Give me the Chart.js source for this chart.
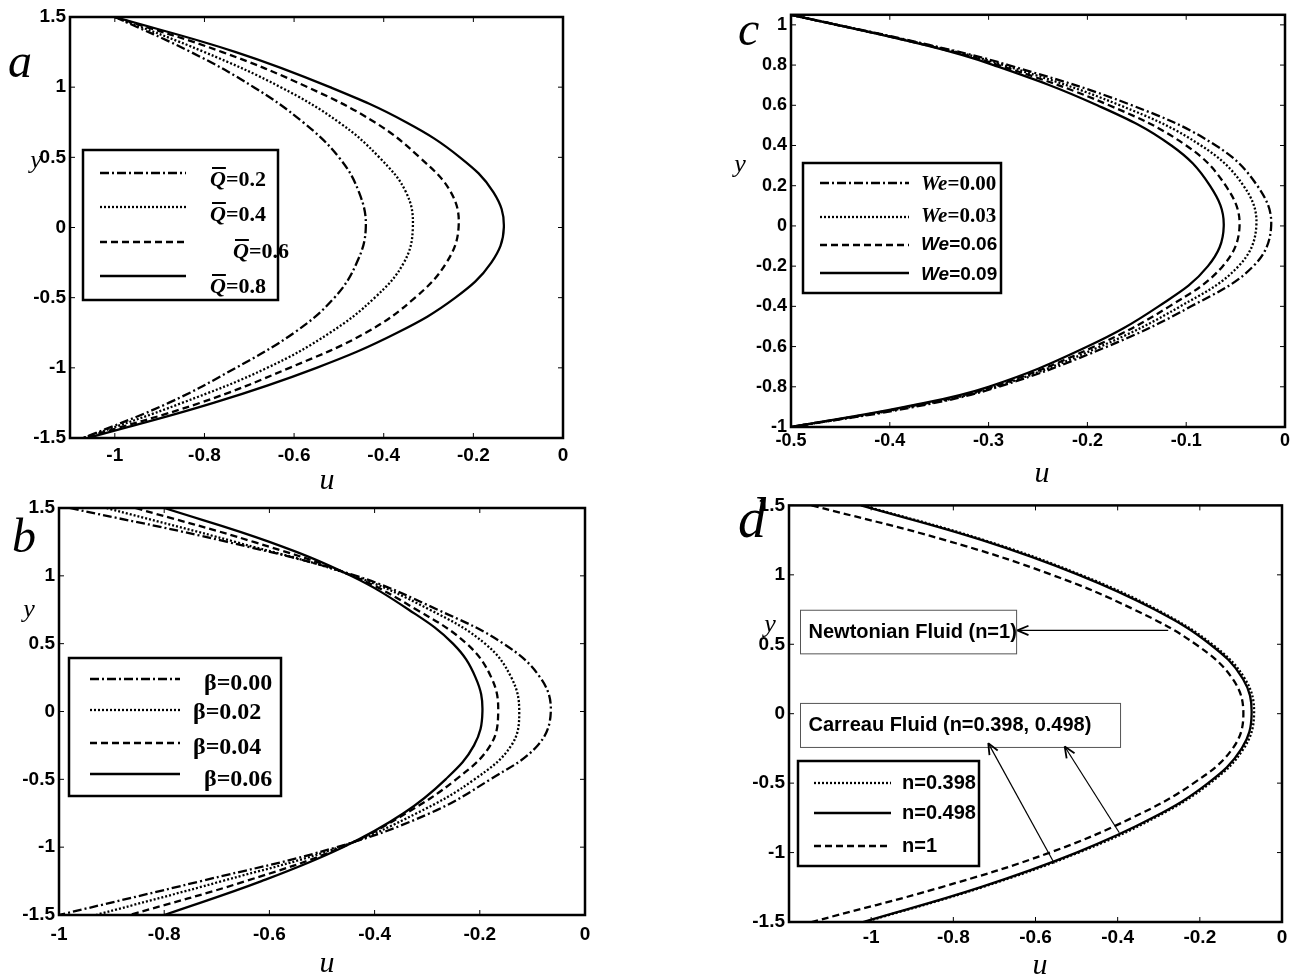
<!DOCTYPE html>
<html>
<head>
<meta charset="utf-8">
<script src="https://cdn.jsdelivr.net/npm/chart.js@4.4.0/dist/chart.umd.min.js"></script>
<style>
body { margin: 0; background: #fff; width: 1299px; height: 978px; position: relative; overflow: hidden; }
canvas { position: absolute; }
</style>
</head>
<body>
<canvas id="pa" width="640" height="500" style="left:0;top:0"></canvas>
<canvas id="pc" width="649" height="500" style="left:650px;top:0"></canvas>
<canvas id="pb" width="640" height="488" style="left:0;top:490px"></canvas>
<canvas id="pd" width="649" height="488" style="left:650px;top:490px"></canvas>
<script>
// ---- panel a : effect of Q ----
var yA = [1.5, 1.25, 1.0, 0.75, 0.5, 0.25, 0, -0.25, -0.5, -0.75, -1.0, -1.25, -1.5];
var uA_Q02 = [-1.00, -0.83, -0.69, -0.58, -0.50, -0.455, -0.44, -0.46, -0.51, -0.60, -0.73, -0.88, -1.07];
var uA_Q04 = [-1.00, -0.80, -0.63, -0.50, -0.41, -0.35, -0.335, -0.355, -0.42, -0.52, -0.66, -0.85, -1.07];
var uA_Q06 = [-1.00, -0.76, -0.57, -0.42, -0.32, -0.25, -0.233, -0.26, -0.33, -0.44, -0.61, -0.81, -1.07];
var uA_Q08 = [-1.00, -0.73, -0.52, -0.35, -0.23, -0.155, -0.132, -0.16, -0.24, -0.37, -0.55, -0.78, -1.06];
var legendA = ['=0.2', '=0.4', '=0.6', '=0.8'];
var xTicksA = [-1, -0.8, -0.6, -0.4, -0.2, 0];
var yTicksA = [-1.5, -1, -0.5, 0, 0.5, 1, 1.5];

// ---- panel b : effect of beta ----
var yB = [1.5, 1.25, 1.0, 0.75, 0.5, 0.25, 0, -0.25, -0.5, -0.75, -1.0, -1.25, -1.5];
var uB_b000 = [-0.98, -0.68, -0.435, -0.28, -0.155, -0.085, -0.065, -0.09, -0.18, -0.295, -0.472, -0.73, -1.0];
var uB_b002 = [-0.91, -0.665, -0.44, -0.295, -0.19, -0.14, -0.125, -0.14, -0.21, -0.32, -0.467, -0.69, -0.93];
var uB_b004 = [-0.855, -0.63, -0.442, -0.32, -0.225, -0.178, -0.165, -0.18, -0.245, -0.34, -0.462, -0.645, -0.865];
var uB_b006 = [-0.80, -0.60, -0.445, -0.335, -0.251, -0.208, -0.195, -0.211, -0.265, -0.345, -0.46, -0.615, -0.80];
var legendB = ['\u03b2=0.00', '\u03b2=0.02', '\u03b2=0.04', '\u03b2=0.06'];
var xTicksB = [-1, -0.8, -0.6, -0.4, -0.2, 0];
var yTicksB = [-1.5, -1, -0.5, 0, 0.5, 1, 1.5];

// ---- panel c : effect of We ----
var yC = [1.05, 0.9, 0.8, 0.6, 0.4, 0.2, 0, -0.2, -0.4, -0.6, -0.8, -0.9, -1.0];
var uC_We000 = [-0.50, -0.36, -0.28, -0.155, -0.07, -0.028, -0.014, -0.032, -0.095, -0.18, -0.29, -0.375, -0.50];
var uC_We003 = [-0.50, -0.362, -0.285, -0.167, -0.085, -0.042, -0.029, -0.047, -0.106, -0.187, -0.293, -0.379, -0.50];
var uC_We006 = [-0.50, -0.364, -0.29, -0.178, -0.10, -0.06, -0.046, -0.063, -0.117, -0.193, -0.296, -0.382, -0.50];
var uC_We009 = [-0.50, -0.365, -0.295, -0.19, -0.115, -0.076, -0.062, -0.078, -0.128, -0.20, -0.30, -0.385, -0.50];
var legendC = ['=0.00', '=0.03', '=0.06', '=0.09'];
var xTicksC = [-0.5, -0.4, -0.3, -0.2, -0.1, 0];
var yTicksC = [-1, -0.8, -0.6, -0.4, -0.2, 0, 0.2, 0.4, 0.6, 0.8, 1];

// ---- panel d : Newtonian vs Carreau ----
var yD = [1.5, 1.25, 1.0, 0.75, 0.5, 0.25, 0, -0.25, -0.5, -0.75, -1.0, -1.25, -1.5];
var uD_n0398 = [-1.02, -0.725, -0.49, -0.305, -0.17, -0.09, -0.068, -0.093, -0.175, -0.31, -0.495, -0.73, -1.015];
var uD_n0498 = [-1.025, -0.73, -0.495, -0.31, -0.175, -0.095, -0.074, -0.098, -0.18, -0.315, -0.50, -0.735, -1.02];
var uD_n1 = [-1.145, -0.82, -0.56, -0.36, -0.21, -0.12, -0.094, -0.12, -0.215, -0.365, -0.565, -0.83, -1.145];
var legendD = ['n=0.398', 'n=0.498', 'n=1'];
var xTicksD = [-1, -0.8, -0.6, -0.4, -0.2, 0];
var yTicksD = [-1.5, -1, -0.5, 0, 0.5, 1, 1.5];
var noteText = ['Newtonian Fluid (n=1)', 'Carreau Fluid (n=0.398, 0.498)'];
// arrows: tail u, tail y, head u, head y
var arrowsD = [[-0.277, 0.6, -0.644, 0.6], [-0.554, -1.079, -0.715, -0.212], [-0.396, -0.857, -0.529, -0.236]];

var DASHDOT = [9, 3, 2, 3], DOT = [2, 2], DASH = [7, 4], SOLID = [];
var SERIF = '"Liberation Serif", "Times New Roman", serif';
var SANS = '"Liberation Sans", Arial, sans-serif';

function seg(ctx, x0, y0, x1, y1) {
    ctx.beginPath();
    ctx.moveTo(x0, y0);
    ctx.lineTo(x1, y1);
    ctx.stroke();
}

var decor = {
    id: 'decor',
    afterDatasetsDraw: function (chart, args, o) {
        var ctx = chart.ctx, a = chart.chartArea;
        var xs = chart.scales.x, ys = chart.scales.y;
        ctx.save();
        ctx.strokeStyle = '#000';
        ctx.fillStyle = '#000';
        ctx.setLineDash([]);

        // inward tick marks on all four sides
        ctx.lineWidth = 1;
        xs.ticks.forEach(function (t) {
            var p = xs.getPixelForValue(t.value);
            seg(ctx, p, a.bottom, p, a.bottom - 5);
            seg(ctx, p, a.top, p, a.top + 5);
        });
        ys.ticks.forEach(function (t) {
            var p = ys.getPixelForValue(t.value);
            seg(ctx, a.left, p, a.left + 5, p);
            seg(ctx, a.right, p, a.right - 5, p);
        });
        ctx.lineWidth = 2.5;
        ctx.strokeRect(a.left, a.top, a.right - a.left, a.bottom - a.top);

        // annotation boxes and arrows (panel d)
        if (o.notes) {
            o.notes.boxes.forEach(function (b, i) {
                var x0 = xs.getPixelForValue(b[0]), x1 = xs.getPixelForValue(b[1]);
                var y0 = ys.getPixelForValue(b[2]), y1 = ys.getPixelForValue(b[3]);
                ctx.lineWidth = 1;
                ctx.strokeStyle = '#555';
                ctx.strokeRect(x0, y0, x1 - x0, y1 - y0);
                ctx.fillStyle = '#000';
                ctx.font = 'bold 20px ' + SANS;
                ctx.textAlign = 'left';
                ctx.textBaseline = 'middle';
                ctx.fillText(o.notes.text[i], x0 + 8, (y0 + y1) / 2);
            });
            ctx.strokeStyle = '#000';
            o.notes.arrows.forEach(function (r) {
                var tx = xs.getPixelForValue(r[0]), ty = ys.getPixelForValue(r[1]);
                var hx = xs.getPixelForValue(r[2]), hy = ys.getPixelForValue(r[3]);
                ctx.lineWidth = 1.2;
                seg(ctx, tx, ty, hx, hy);
                var ang = Math.atan2(hy - ty, hx - tx);
                ctx.lineWidth = 1.8;
                seg(ctx, hx, hy, hx - 12 * Math.cos(ang - 0.4), hy - 12 * Math.sin(ang - 0.4));
                seg(ctx, hx, hy, hx - 12 * Math.cos(ang + 0.4), hy - 12 * Math.sin(ang + 0.4));
            });
        }

        // legend box
        var L = o.legend;
        ctx.strokeStyle = '#000';
        ctx.lineWidth = 2.5;
        ctx.strokeRect(L.box[0], L.box[1], L.box[2] - L.box[0], L.box[3] - L.box[1]);
        chart.data.datasets.forEach(function (ds, i) {
            ctx.lineWidth = ds.borderWidth;
            ctx.setLineDash(ds.borderDash);
            seg(ctx, L.line[0], L.rows[i], L.line[1], L.rows[i]);
            ctx.setLineDash([]);
            var x = L.textX[i], y = L.textY[i];
            ctx.textAlign = 'left';
            ctx.textBaseline = 'middle';
            L.labels[i].forEach(function (r) {
                ctx.font = r.f;
                ctx.fillText(r.t, x, y);
                var w = ctx.measureText(r.t).width;
                if (r.bar) {
                    ctx.lineWidth = 2;
                    seg(ctx, x + 2, y - 12, x + w, y - 12);
                }
                x += w;
            });
        });

        // panel letter and axis titles
        o.texts.forEach(function (t) {
            ctx.font = t.f;
            ctx.textAlign = t.align || 'left';
            ctx.textBaseline = t.base || 'alphabetic';
            ctx.fillText(t.t, t.x, t.y);
        });
        ctx.restore();
    }
};

function panel(id, p) {
    var datasets = p.series.map(function (u, i) {
        return {
            data: p.y.map(function (y, k) { return { x: u[k], y: y }; }),
            showLine: true,
            borderColor: '#000',
            borderWidth: 2.3,
            borderDash: p.dashes[i],
            pointRadius: 0,
            tension: 0.4,
            fill: false
        };
    });
    var font = { family: 'Liberation Sans', weight: 'bold', size: p.fs };
    return new Chart(document.getElementById(id), {
        type: 'scatter',
        data: { datasets: datasets },
        options: {
            responsive: false,
            animation: false,
            layout: { padding: p.pad },
            plugins: {
                legend: { display: false },
                tooltip: { enabled: false },
                decor: { legend: p.legend, texts: p.texts, notes: p.notes }
            },
            scales: {
                x: {
                    type: 'linear', min: p.xr[0], max: p.xr[1],
                    grid: { display: false, drawTicks: false },
                    border: { display: false },
                    afterBuildTicks: function (s) { s.ticks = p.xt.map(function (v) { return { value: v }; }); },
                    afterFit: function (s) { s.height = p.xh; },
                    ticks: { color: '#000', font: font, padding: p.xpad, maxRotation: 0, autoSkip: false,
                        callback: function (v) { return String(v); } }
                },
                y: {
                    type: 'linear', min: p.yr[0], max: p.yr[1],
                    grid: { display: false, drawTicks: false },
                    border: { display: false },
                    afterBuildTicks: function (s) { s.ticks = p.yt.map(function (v) { return { value: v }; }); },
                    afterFit: function (s) { s.width = p.yw; },
                    ticks: { color: '#000', font: font, padding: 4, autoSkip: false,
                        callback: function (v) { return String(v); } }
                }
            }
        },
        plugins: [decor]
    });
}

function runs(prefix, prefixFont, rest, restFont, bar) {
    return [{ t: prefix, f: prefixFont, bar: bar }, { t: rest, f: restFont }];
}

// panel a
panel('pa', {
    y: yA, series: [uA_Q02, uA_Q04, uA_Q06, uA_Q08], dashes: [DASHDOT, DOT, DASH, SOLID],
    xr: [-1.1, 0], yr: [-1.5, 1.5], xt: xTicksA, yt: yTicksA, fs: 19,
    pad: { left: 0, right: 77, top: 17, bottom: 0 }, xh: 62, yw: 70, xpad: 6,
    legend: {
        box: [83, 150, 278, 300], line: [100, 186], rows: [173, 207, 242, 276],
        textX: [210, 210, 233, 210], textY: [180, 215, 252, 287],
        labels: legendA.map(function (s) {
            return runs('Q', 'bold italic 22px ' + SERIF, s, 'bold 22px ' + SERIF, true);
        })
    },
    texts: [
        { t: 'a', f: 'italic 48px ' + SERIF, x: 8, y: 77 },
        { t: 'y', f: 'italic 26px ' + SERIF, x: 36, y: 161, align: 'center', base: 'middle' },
        { t: 'u', f: 'italic 30px ' + SERIF, x: 327, y: 481, align: 'center', base: 'middle' }
    ]
});

// panel c
panel('pc', {
    y: yC, series: [uC_We000, uC_We003, uC_We006, uC_We009], dashes: [DASHDOT, DOT, DASH, SOLID],
    xr: [-0.5, 0], yr: [-1, 1.05], xt: xTicksC, yt: yTicksC, fs: 18,
    pad: { left: 0, right: 14, top: 9, bottom: 0 }, xh: 73, yw: 141, xpad: 3,
    legend: {
        box: [153, 163, 351, 293], line: [170, 259], rows: [183, 217, 245, 273],
        textX: [271, 271, 271, 271], textY: [185, 217, 245, 275],
        labels: legendC.map(function (s, i) {
            if (i < 2) {
                return runs('We', 'bold italic 21px ' + SERIF, s, 'bold 21px ' + SERIF, false);
            }
            return runs('We', 'bold italic 19px ' + SANS, s, 'bold 19px ' + SANS, false);
        })
    },
    texts: [
        { t: 'c', f: 'italic 48px ' + SERIF, x: 88, y: 45 },
        { t: 'y', f: 'italic 26px ' + SERIF, x: 90, y: 165, align: 'center', base: 'middle' },
        { t: 'u', f: 'italic 30px ' + SERIF, x: 392, y: 474, align: 'center', base: 'middle' }
    ]
});

// panel b
panel('pb', {
    y: yB, series: [uB_b000, uB_b002, uB_b004, uB_b006], dashes: [DASHDOT, DOT, DASH, SOLID],
    xr: [-1, 0], yr: [-1.5, 1.5], xt: xTicksB, yt: yTicksB, fs: 19,
    pad: { left: 0, right: 55, top: 18, bottom: 0 }, xh: 63, yw: 59, xpad: 8,
    legend: {
        box: [69, 168, 281, 306], line: [90, 180], rows: [189, 220, 253, 284],
        textX: [204, 193, 193, 204], textY: [194, 223, 258, 290],
        labels: legendB.map(function (s) {
            return [{ t: s, f: 'bold 24px ' + SERIF }];
        })
    },
    texts: [
        { t: 'b', f: 'italic 48px ' + SERIF, x: 12, y: 62 },
        { t: 'y', f: 'italic 26px ' + SERIF, x: 29, y: 120, align: 'center', base: 'middle' },
        { t: 'u', f: 'italic 30px ' + SERIF, x: 327, y: 474, align: 'center', base: 'middle' }
    ]
});

// panel d
panel('pd', {
    y: yD, series: [uD_n0398, uD_n0498, uD_n1], dashes: [DOT, SOLID, DASH],
    xr: [-1.2, 0], yr: [-1.5, 1.5], xt: xTicksD, yt: yTicksD, fs: 19,
    pad: { left: 0, right: 17, top: 12, bottom: 0 }, xh: 56, yw: 139, xpad: 4,
    legend: {
        box: [148, 271, 329, 376], line: [164, 241], rows: [293, 323, 356],
        textX: [252, 252, 252], textY: [293, 323, 356],
        labels: legendD.map(function (s) {
            return [{ t: s, f: 'bold 20px ' + SANS }];
        })
    },
    notes: {
        text: noteText,
        boxes: [[-1.172, -0.646, 0.745, 0.431], [-1.172, -0.393, 0.074, -0.243]],
        arrows: arrowsD
    },
    texts: [
        { t: 'd', f: 'italic 56px ' + SERIF, x: 88, y: 47 },
        { t: 'y', f: 'italic 26px ' + SERIF, x: 120, y: 135, align: 'center', base: 'middle' },
        { t: 'u', f: 'italic 30px ' + SERIF, x: 390, y: 476, align: 'center', base: 'middle' }
    ]
});
</script>
</body>
</html>
